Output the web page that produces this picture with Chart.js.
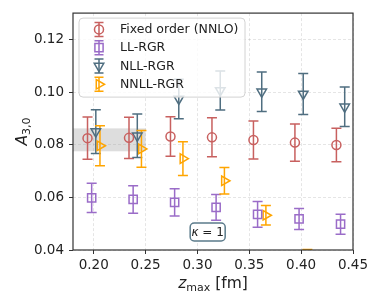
<!DOCTYPE html>
<html>
<head>
<meta charset="utf-8">
<script src="https://cdn.jsdelivr.net/npm/chart.js@4"></script>
<style>
  html, body { margin: 0; padding: 0; background: #fff; }
</style>
</head>
<body>
<canvas id="chart" width="381" height="305"></canvas>
<script>
// valores
const seriesNames = ['Fixed order (NNLO)', 'LL-RGR', 'NLL-RGR', 'NNLL-RGR'];

const fixedX = [0.194, 0.234, 0.274, 0.314, 0.354, 0.394, 0.434];
const fixedVal = [0.0825, 0.0826, 0.0831, 0.0828, 0.0818, 0.0808, 0.0799];
const fixedErr = [0.0080, 0.0078, 0.0075, 0.0074, 0.0072, 0.0071, 0.0064];

const llX = [0.198, 0.238, 0.278, 0.318, 0.358, 0.398, 0.438];
const llVal = [0.0598, 0.0592, 0.0581, 0.0562, 0.0535, 0.0518, 0.0498];
const llErr = [0.0056, 0.0052, 0.0052, 0.0049, 0.0049, 0.0040, 0.0038];

const nllX = [0.202, 0.242, 0.282, 0.322, 0.362, 0.402, 0.442];
const nllVal = [0.0850, 0.0834, 0.0974, 0.1006, 0.1001, 0.0993, 0.0944];
const nllErr = [0.0083, 0.0083, 0.0075, 0.0074, 0.0075, 0.0078, 0.0075];

const nnllX = [0.206, 0.246, 0.286, 0.326, 0.366, 0.406];
const nnllVal = [0.0796, 0.0784, 0.0747, 0.0663, 0.0532, 0.0366];
const nnllErr = [0.0076, 0.0070, 0.0064, 0.0050, 0.0037, 0.0036];

const xTicks = [0.20, 0.25, 0.30, 0.35, 0.40, 0.45];
const yTicks = [0.04, 0.06, 0.08, 0.10, 0.12];

// banda gris
const bandX = [0.18, 0.25];
const bandY = [0.0775, 0.0862];

const colors = ['#c8605f', '#9a6cc8', '#4f6e80', '#ffa500'];
const styles = [
  { pointStyle: 'circle', radius: 4.5, rotation: 0 },
  { pointStyle: 'rect', radius: 5.8, rotation: 0 },
  { pointStyle: 'triangle', radius: 5.5, rotation: 180 },
  { pointStyle: 'triangle', radius: 5.5, rotation: 90 }
];
const allX = [fixedX, llX, nllX, nnllX];
const allVal = [fixedVal, llVal, nllVal, nnllVal];
const allErr = [fixedErr, llErr, nllErr, nnllErr];

const FONT = "'DejaVu Sans', sans-serif";

const datasets = seriesNames.map((name, i) => ({
  label: name,
  data: allX[i].map((x, j) => ({ x: x, y: allVal[i][j] })),
  borderColor: colors[i],
  backgroundColor: 'rgba(0,0,0,0)',
  pointStyle: styles[i].pointStyle,
  pointRadius: styles[i].radius,
  pointRotation: styles[i].rotation,
  pointBorderWidth: 1.5,
  showLine: false
}));

const errorBars = {
  id: 'errorBars',
  beforeDatasetsDraw(chart) {
    const { ctx, chartArea: a, scales: { x, y } } = chart;
    ctx.save();
    ctx.beginPath();
    ctx.rect(a.left, a.top, a.width, a.height);
    ctx.clip();
    // banda
    const bx0 = x.getPixelForValue(bandX[0]);
    const bx1 = x.getPixelForValue(bandX[1]);
    const by0 = y.getPixelForValue(bandY[1]);
    const by1 = y.getPixelForValue(bandY[0]);
    ctx.fillStyle = 'rgba(150,150,150,0.32)';
    ctx.fillRect(bx0, by0, bx1 - bx0, by1 - by0);

    ctx.lineWidth = 1.5;
    allX.forEach((xs, i) => {
      ctx.strokeStyle = colors[i];
      xs.forEach((xv, j) => {
        const px = x.getPixelForValue(xv);
        const top = y.getPixelForValue(allVal[i][j] + allErr[i][j]);
        const bot = y.getPixelForValue(allVal[i][j] - allErr[i][j]);
        ctx.beginPath();
        ctx.moveTo(px, top); ctx.lineTo(px, bot);
        ctx.moveTo(px - 5, top); ctx.lineTo(px + 5, top);
        ctx.moveTo(px - 5, bot); ctx.lineTo(px + 5, bot);
        ctx.stroke();
      });
    });
    ctx.restore();
  },
  afterDatasetsDraw(chart) {
    const { ctx, chartArea: a } = chart;
    ctx.save();
    // leyenda
    const lx = a.left + 6, ly = a.top + 5, lw = 166, lh = 79;
    ctx.beginPath();
    ctx.roundRect(lx, ly, lw, lh, 4);
    ctx.fillStyle = 'rgba(255,255,255,0.8)';
    ctx.fill();
    ctx.strokeStyle = '#d2d2d2';
    ctx.lineWidth = 1;
    ctx.stroke();
    seriesNames.forEach((name, i) => {
      const cy = ly + 11.3 + i * 18.3;
      const cx = lx + 20;
      ctx.strokeStyle = colors[i];
      ctx.lineWidth = 1.5;
      ctx.beginPath();
      ctx.moveTo(cx, cy - 7); ctx.lineTo(cx, cy + 7);
      ctx.moveTo(cx - 4.5, cy - 7); ctx.lineTo(cx + 4.5, cy - 7);
      ctx.moveTo(cx - 4.5, cy + 7); ctx.lineTo(cx + 4.5, cy + 7);
      ctx.stroke();
      ctx.fillStyle = 'rgba(0,0,0,0)';
      Chart.helpers.drawPoint(ctx, {
        pointStyle: styles[i].pointStyle,
        radius: styles[i].radius,
        rotation: styles[i].rotation,
        borderWidth: 1.5
      }, cx, cy);
      ctx.fillStyle = '#222';
      ctx.font = '12.5px ' + FONT;
      ctx.textBaseline = 'middle';
      ctx.textAlign = 'left';
      ctx.fillText(name, lx + 41, cy + 0.5);
    });

    // caja kappa
    const kx = a.left + 0.481 * a.width, ky = a.bottom - 18;
    ctx.beginPath();
    ctx.roundRect(kx - 17.5, ky - 9, 35, 18, 4);
    ctx.fillStyle = '#fff';
    ctx.fill();
    ctx.strokeStyle = '#5b7b8b';
    ctx.lineWidth = 1.5;
    ctx.stroke();
    ctx.fillStyle = '#222';
    ctx.textBaseline = 'middle';
    ctx.textAlign = 'left';
    const k = '\u03ba';
    const rest = ' = 1';
    ctx.font = 'italic 12px ' + FONT;
    const kw = ctx.measureText(k).width;
    ctx.font = '12px ' + FONT;
    const rw = ctx.measureText(rest).width;
    let sx = kx - (kw + rw) / 2;
    ctx.font = 'italic 12px ' + FONT;
    ctx.fillText(k, sx, ky + 0.5);
    ctx.font = '12px ' + FONT;
    ctx.fillText(rest, sx + kw, ky + 0.5);
    ctx.restore();
  },
  afterDraw(chart) {
    const { ctx, chartArea: a } = chart;
    ctx.save();
    // marco
    ctx.strokeStyle = '#333';
    ctx.lineWidth = 1.2;
    ctx.strokeRect(a.left, a.top, a.width, a.height);

    // titulo eje x
    ctx.fillStyle = '#222';
    ctx.textBaseline = 'alphabetic';
    ctx.textAlign = 'left';
    const parts = [
      { t: 'z', f: 'italic 15.5px ' + FONT, dy: 0 },
      { t: 'max', f: '11px ' + FONT, dy: 3 },
      { t: ' [fm]', f: '15.5px ' + FONT, dy: 0 }
    ];
    let total = 0;
    parts.forEach(p => { ctx.font = p.f; p.w = ctx.measureText(p.t).width; total += p.w; });
    let sx = (a.left + a.right) / 2 - total / 2;
    parts.forEach(p => {
      ctx.font = p.f;
      ctx.fillText(p.t, sx, 288 + p.dy);
      sx += p.w;
    });

    // titulo eje y
    ctx.translate(27, (a.top + a.bottom) / 2);
    ctx.rotate(-Math.PI / 2);
    const yparts = [
      { t: 'A', f: 'italic 15.5px ' + FONT, dy: 0 },
      { t: '3,0', f: '11px ' + FONT, dy: 3 }
    ];
    total = 0;
    yparts.forEach(p => { ctx.font = p.f; p.w = ctx.measureText(p.t).width; total += p.w; });
    sx = -total / 2;
    yparts.forEach(p => {
      ctx.font = p.f;
      ctx.fillText(p.t, sx, p.dy);
      sx += p.w;
    });
    ctx.restore();
  }
};

new Chart(document.getElementById('chart'), {
  type: 'scatter',
  data: { datasets: datasets },
  options: {
    responsive: false,
    animation: false,
    devicePixelRatio: 1,
    layout: { padding: { top: 12, right: 28, left: 0, bottom: 0 } },
    plugins: {
      legend: { display: false },
      tooltip: { enabled: false }
    },
    scales: {
      x: {
        type: 'linear',
        min: 0.18,
        max: 0.45,
        afterBuildTicks: s => { s.ticks = xTicks.map(v => ({ value: v })); },
        afterFit: s => { s.height = 55; },
        ticks: {
          callback: v => v.toFixed(2),
          font: { family: FONT, size: 13.5 },
          color: '#222',
          padding: 3,
          maxRotation: 0,
          autoSkip: false
        },
        grid: {
          color: 'rgba(0,0,0,0.13)',
          lineWidth: 0.8,
          tickColor: '#333',
          tickLength: 4,
          tickWidth: 1,
          tickBorderDash: []
        },
        border: { display: false, dash: [3, 2] }
      },
      y: {
        min: 0.04,
        max: 0.13,
        afterBuildTicks: s => { s.ticks = yTicks.map(v => ({ value: v })); },
        afterFit: s => { s.width = 73; },
        ticks: {
          callback: v => v.toFixed(2),
          font: { family: FONT, size: 13.5 },
          color: '#222',
          padding: 5
        },
        grid: {
          color: 'rgba(0,0,0,0.13)',
          lineWidth: 0.8,
          tickColor: '#333',
          tickLength: 4,
          tickWidth: 1,
          tickBorderDash: []
        },
        border: { display: false, dash: [3, 2] }
      }
    }
  },
  plugins: [errorBars]
});
</script>
</body>
</html>
